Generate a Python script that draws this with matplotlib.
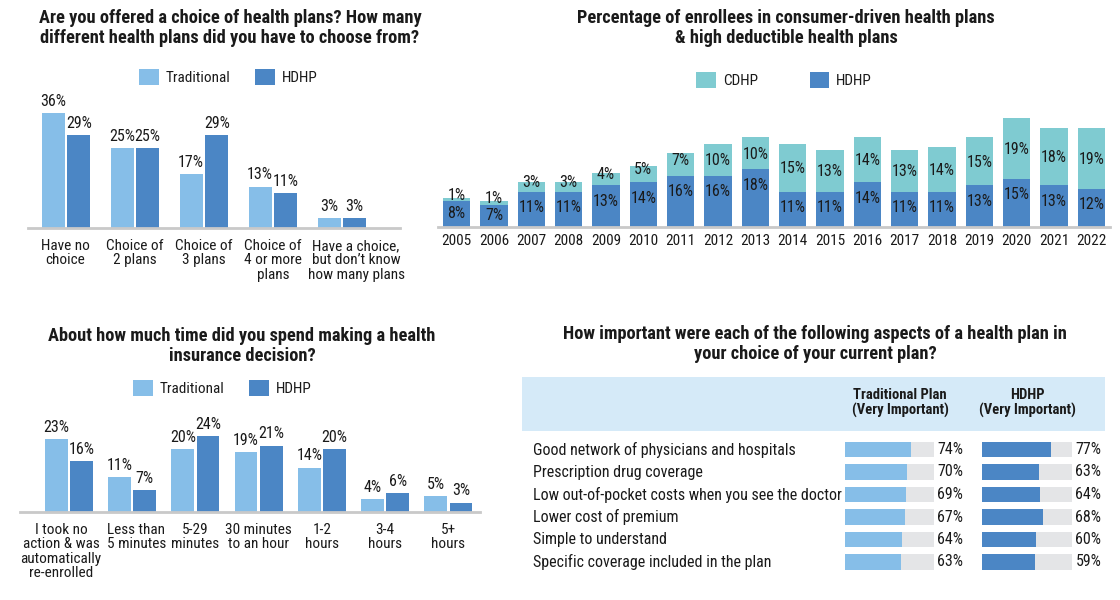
import matplotlib
matplotlib.use('Agg')
import matplotlib.pyplot as plt
from matplotlib.patches import Patch, Rectangle
from matplotlib.transforms import ScaledTranslation
import numpy as np

# -- data --
choice_cats = ['Have no\nchoice', 'Choice of\n2 plans', 'Choice of\n3 plans',
               'Choice of\n4 or more\nplans', 'Have a choice,\nbut don\u2019t know\nhow many plans']
choice_trad = [36, 25, 17, 13, 3]
choice_hdhp = [29, 25, 29, 11, 3]

years = [str(y) for y in range(2005, 2023)]
enr_hdhp = [8, 7, 11, 11, 13, 14, 16, 16, 18, 11, 11, 14, 11, 11, 13, 15, 13, 12]
enr_cdhp = [1, 1, 3, 3, 4, 5, 7, 10, 10, 15, 13, 14, 13, 14, 15, 19, 18, 19]

time_cats = ['I took no\naction & was\nautomatically\nre-enrolled', 'Less than\n5 minutes',
             '5-29\nminutes', '30 minutes\nto an hour', '1-2\nhours', '3-4\nhours', '5+\nhours']
time_trad = [23, 11, 20, 19, 14, 4, 5]
time_hdhp = [16, 7, 24, 21, 20, 6, 3]

aspects = ['Good network of physicians and hospitals', 'Prescription drug coverage',
           'Low out-of-pocket costs when you see the doctor', 'Lower cost of premium',
           'Simple to understand', 'Specific coverage included in the plan']
imp_trad = [74, 70, 69, 67, 64, 63]
imp_hdhp = [77, 63, 64, 68, 60, 59]

# -- style --
C_TRAD = '#86BEE8'
C_HDHP = '#4B86C5'
C_CDHP = '#7FCBD1'
C_TRACK = '#E4E5E7'
C_BAND = '#D5EAF8'
C_BASE = '#C9C9C9'
TXT = '#1a1a1a'
plt.rcParams['font.family'] = ['Roboto Condensed', 'DejaVu Sans']
plt.rcParams['text.color'] = TXT

W, H = 1120, 600
fig = plt.figure(figsize=(11.2, 6), dpi=100)


def px_axes(x0, y0, x1, y1):
    # pixel box (top-left origin) -> axes
    return fig.add_axes([x0 / W, 1 - y1 / H, (x1 - x0) / W, (y1 - y0) / H])


def ftext(x, y, s, **kw):
    fig.text(x / W, 1 - y / H, s, **kw)


def clean(ax):
    for s in ['top', 'right', 'left']:
        ax.spines[s].set_visible(False)
    ax.spines['bottom'].set_color(C_BASE)
    ax.spines['bottom'].set_linewidth(2)
    ax.set_yticks([])
    ax.tick_params(axis='x', length=0, labelsize=11, colors=TXT, pad=8)
    ax.set_facecolor('none')


def shift_labels(ax, shifts):
    # nudge tick labels sideways (pixels), like the original layout
    for lab, dx in zip(ax.get_xticklabels(), shifts):
        lab.set_transform(lab.get_transform() + ScaledTranslation(dx / 100, 0, fig.dpi_scale_trans))


def legend(ax, labels, colors, x, y, spacing=1.6):
    handles = [Patch(facecolor=c, edgecolor='none') for c in colors]
    ax.legend(handles, labels, loc='center', bbox_to_anchor=(x / W, 1 - y / H),
              bbox_transform=fig.transFigure, ncol=len(labels), frameon=False,
              fontsize=11, handlelength=1.3, handleheight=1.3,
              handletextpad=0.45, columnspacing=spacing)


def grouped(ax, trad, hdhp, off, width):
    x = np.arange(len(trad))
    b1 = ax.bar(x - off, trad, width, color=C_TRAD)
    b2 = ax.bar(x + off, hdhp, width, color=C_HDHP)
    for bars, vals in [(b1, trad), (b2, hdhp)]:
        ax.bar_label(bars, labels=[f'{v}%' for v in vals], padding=3,
                     fontsize=11.5, color=TXT)
    return x


TITLE = dict(ha='center', va='center', fontsize=13.2, fontweight='bold', linespacing=1.12)

# ── 1) choice of plans ──
ftext(230, 28, 'Are you offered a choice of health plans? How many\n'
      'different health plans did you have to choose from?', **TITLE)
ax1 = px_axes(28, 100, 400, 228)
x = grouped(ax1, choice_trad, choice_hdhp, 0.185, 0.335)
ax1.set_xlim(-0.55, 4.84)
ax1.set_ylim(0, 40.1)
ax1.set_xticks(x)
ax1.set_xticklabels(choice_cats, linespacing=1.02, va='top')
clean(ax1)
shift_labels(ax1, [-1, 0, 0, 0, 14])
legend(ax1, ['Traditional', 'HDHP'], [C_TRAD, C_HDHP], 228, 77)

# ── 2) CDHP / HDHP enrollment ──
ftext(786, 28, 'Percentage of enrollees in consumer-driven health plans\n'
      '& high deductible health plans', **TITLE)
ax2 = px_axes(438, 110, 1110, 227)
xe = np.arange(len(years))
ax2.bar(xe, enr_hdhp, 0.73, color=C_HDHP)
ax2.bar(xe, enr_cdhp, 0.73, bottom=enr_hdhp, color=C_CDHP)
for i in range(len(years)):
    h, c = enr_hdhp[i], enr_cdhp[i]
    ax2.text(xe[i], h - 5 if h > 8 else h / 2 + 0.2, f'{h}%', ha='center', va='center',
             fontsize=11.5, color=TXT)
    yc = h + c / 2 + (1.3 if c < 8 else -0.3)
    ax2.text(xe[i], yc, f'{c}%', ha='center', va='center', fontsize=11.5, color=TXT)
ax2.set_xlim(-0.5, 17.5)
ax2.set_ylim(0, 36.5)
ax2.set_xticks(xe)
ax2.set_xticklabels(years)
clean(ax2)
ax2.tick_params(axis='x', pad=5, labelsize=11)
legend(ax2, ['CDHP', 'HDHP'], [C_CDHP, C_HDHP], 784, 80, spacing=3.4)

# ── 3) time spent ──
ftext(242, 346, 'About how much time did you spend making a health\ninsurance decision?',
      **TITLE)
ax3 = px_axes(20, 417, 480, 512)
x = grouped(ax3, time_trad, time_hdhp, 0.2, 0.36)
ax3.set_xlim(-0.775, 6.5)
ax3.set_ylim(0, 30)
ax3.set_xticks(x)
ax3.set_xticklabels(time_cats, linespacing=1.02, va='top')
clean(ax3)
shift_labels(ax3, [-8, 4, 0, 0, 0, 0, 0])
legend(ax3, ['Traditional', 'HDHP'], [C_TRAD, C_HDHP], 222, 388)

# ── 4) importance table ──
ftext(815, 344, 'How important were each of the following aspects of a health plan in\n'
      'your choice of your current plan?', **TITLE)
fig.add_artist(Rectangle((522 / W, 1 - 431 / H), (1105 - 522) / W, 54 / H,
                         transform=fig.transFigure, facecolor=C_BAND, edgecolor='none'))
ftext(900, 403, 'Traditional Plan\n(Very Important)', ha='center', va='center',
      fontsize=10.5, fontweight='bold', linespacing=1.1)
ftext(1027, 403, 'HDHP\n(Very Important)', ha='center', va='center',
      fontsize=10.5, fontweight='bold', linespacing=1.1)

rows = np.arange(len(aspects))
for (x0, x1), vals, col in [((845, 934), imp_trad, C_TRAD), ((982, 1072), imp_hdhp, C_HDHP)]:
    ax = px_axes(x0, 438.25, x1, 573.25)
    ax.barh(rows, [100] * len(rows), 0.69, color=C_TRACK)
    ax.barh(rows, vals, 0.69, color=col)
    for r, v in zip(rows, vals):
        ax.text(132.5, r, f'{v}%', ha='right', va='center', fontsize=11.5,
                color=TXT, clip_on=False)
    ax.set_xlim(0, 100)
    ax.set_ylim(5.5, -0.5)
    ax.axis('off')
    if col == C_TRAD:
        for r, lab in zip(rows, aspects):
            ax.text(-(845 - 533) / 89 * 100, r, lab, ha='left', va='center',
                    fontsize=11.5, color=TXT, clip_on=False)

fig.savefig('out.png', dpi=100, facecolor='white')
